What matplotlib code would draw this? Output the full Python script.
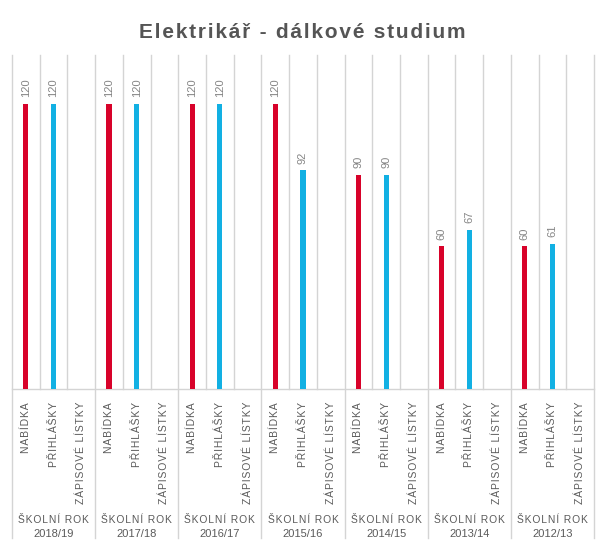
import numpy as np
import matplotlib
matplotlib.use('Agg')
import matplotlib.pyplot as plt
import matplotlib.transforms as mtransforms

plt.rcParams['font.family'] = ['Liberation Sans', 'DejaVu Sans']

# data
roky = ['2018/19', '2017/18', '2016/17', '2015/16', '2014/15', '2013/14', '2012/13']
kategorie = ['NABÍDKA', 'PŘIHLÁŠKY', 'ZÁPISOVÉ LÍSTKY']
nabidka = [120, 120, 120, 120, 90, 60, 60]
prihlasky = [120, 120, 120, 92, 90, 67, 61]


def spaced(s, sep='\u200a'):
    # crude letter spacing
    return sep.join(s)


W, H = 605, 553
fig = plt.figure(figsize=(W/100, H/100), dpi=100)
left, right, top, base = 12, 594, 55, 389
ax = fig.add_axes([left/W, 1-base/H, (right-left)/W, (base-top)/H])
ax.set_xlim(-0.5, 3*len(roky)-0.5)
ax.set_ylim(0, 140.6)
for s in ax.spines.values():
    s.set_visible(False)
ax.set_xticks([])
ax.set_yticks([])

red = '#d8022a'
blue = '#12b0e3'
grid = '#d4d4d4'

trans = mtransforms.blended_transform_factory(ax.transData, fig.transFigure)

# separators
for i in range(3*len(roky)+1):
    x = i-0.5
    if i % 3 == 0:
        ax.plot([x, x], [1-top/H, 1-538/H], color=grid, lw=1, transform=trans, clip_on=False, zorder=0)
    else:
        ax.plot([x, x], [1-top/H, 1-base/H], color=grid, lw=1, transform=trans, clip_on=False, zorder=0)
ax.plot([-0.5, 3*len(roky)-0.5], [0, 0], color=grid, lw=1, clip_on=False, zorder=0)

xn = np.arange(len(roky))*3
xp = xn+1
bw = 0.19
ax.bar(xn, nabidka, width=bw, color=red, zorder=2)
ax.bar(xp, prihlasky, width=bw, color=blue, zorder=2)
for x, v in list(zip(xn, nabidka))+list(zip(xp, prihlasky)):
    ax.annotate(str(v), (x, v), xytext=(0, 5), textcoords='offset points',
                rotation=90, ha='center', va='bottom', fontsize=8, color='#858585')

# category labels
for g in range(len(roky)):
    for k, lab in enumerate(kategorie):
        ax.text(3*g+k, 1-402/H, spaced(lab), transform=trans, rotation=90, ha='center', va='top',
                fontsize=7.5, color='#5a5a5a')
    ax.text(3*g+1, 1-520/H, spaced('ŠKOLNÍ ROK'), transform=trans, ha='center', va='center',
            fontsize=7.4, color='#5a5a5a')
    ax.text(3*g+1, 1-534/H, roky[g], transform=trans, ha='center', va='center',
            fontsize=8, color='#5a5a5a')

fig.text(0.5, 1-32/H, spaced('Elektrikář - dálkové studium'), ha='center', va='center',
         fontsize=15, fontweight='bold', color='#555555')

fig.savefig('out.png', dpi=100)
